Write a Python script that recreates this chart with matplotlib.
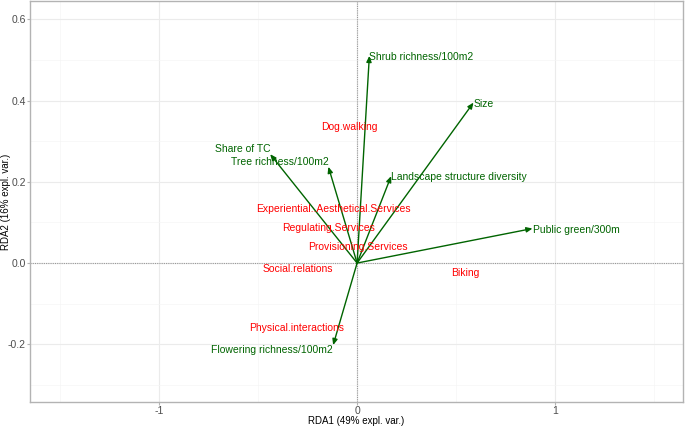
import matplotlib
matplotlib.use("Agg")
import matplotlib.pyplot as plt
import numpy as np

plt.rcParams["font.family"] = ["Liberation Sans", "DejaVu Sans"]

# environmental vectors (arrows)
env_names = ["Shrub richness/100m2", "Size", "Landscape structure diversity",
             "Public green/300m", "Share of TC", "Tree richness/100m2",
             "Flowering richness/100m2"]
env_x = [0.062, 0.588, 0.172, 0.886, -0.439, -0.145, -0.121]
env_y = [0.510, 0.395, 0.214, 0.085, 0.268, 0.237, -0.202]

# response variables (red labels)
resp_names = ["Dog.walking", "Experiential..Aesthetical.Services",
              "Regulating.Services", "Provisioning.Services",
              "Social.relations", "Biking", "Physical.interactions"]
resp_x = [-0.04, -0.12, -0.146, 0.005, -0.298, 0.546, -0.303]
resp_y = [0.335, 0.133, 0.086, 0.039, -0.015, -0.025, -0.160]

fig = plt.figure(figsize=(6.85, 4.26), dpi=100)
ax = fig.add_axes([30 / 685, 1 - 402 / 426, 653 / 685, 401 / 426])

ax.set_xlim(-1.652, 1.646)
ax.set_ylim(-0.342, 0.645)
ax.set_xticks([-1, 0, 1])
ax.set_xticklabels(["-1", "0", "1"])
ax.set_yticks([-0.2, 0.0, 0.2, 0.4, 0.6])
ax.set_yticklabels(["-0.2", "0.0", "0.2", "0.4", "0.6"])
ax.set_xticks([-1.5, -0.5, 0.5, 1.5], minor=True)
ax.set_yticks([-0.3, -0.1, 0.1, 0.3, 0.5], minor=True)
ax.grid(which="major", color="#ebebeb", lw=0.8)
ax.grid(which="minor", color="#f5f5f5", lw=0.5)
ax.set_axisbelow(True)
for s in ax.spines.values():
    s.set_color("#b3b3b3")
    s.set_linewidth(1.0)
ax.tick_params(which="both", length=2, color="#b3b3b3", labelsize=7.5,
               labelcolor="#4d4d4d", pad=1)
ax.tick_params(which="minor", length=0)

ax.axhline(0, color="#999999", lw=0.8, ls=(0, (1, 1)), zorder=1)
ax.axvline(0, color="#999999", lw=0.8, ls=(0, (1, 1)), zorder=1)

for x, y in zip(env_x, env_y):
    ax.annotate("", xy=(x, y), xytext=(0, 0),
                arrowprops=dict(arrowstyle="-|>,head_length=0.35,head_width=0.15",
                                color="#006400", lw=1.0, shrinkA=0, shrinkB=0),
                zorder=3)

for name, x, y in zip(env_names, env_x, env_y):
    if x < 0:
        ax.text(x, y, name, color="#006400", fontsize=7.5, ha="right",
                va="bottom" if y > 0 else "top", zorder=4)
    else:
        ax.text(x, y, name, color="#006400", fontsize=7.5, ha="left",
                va="center_baseline", zorder=4)

for name, x, y in zip(resp_names, resp_x, resp_y):
    ax.text(x, y, name, color="red", fontsize=7.5, ha="center", va="center",
            zorder=4)

ax.set_xlabel("RDA1 (49% expl. var.)", fontsize=7)
ax.set_ylabel("RDA2 (16% expl. var.)", fontsize=7)
ax.xaxis.set_label_coords(0.5, -0.036)
ax.yaxis.set_label_coords(-0.029, 0.5)

fig.savefig("out.png", dpi=100)
